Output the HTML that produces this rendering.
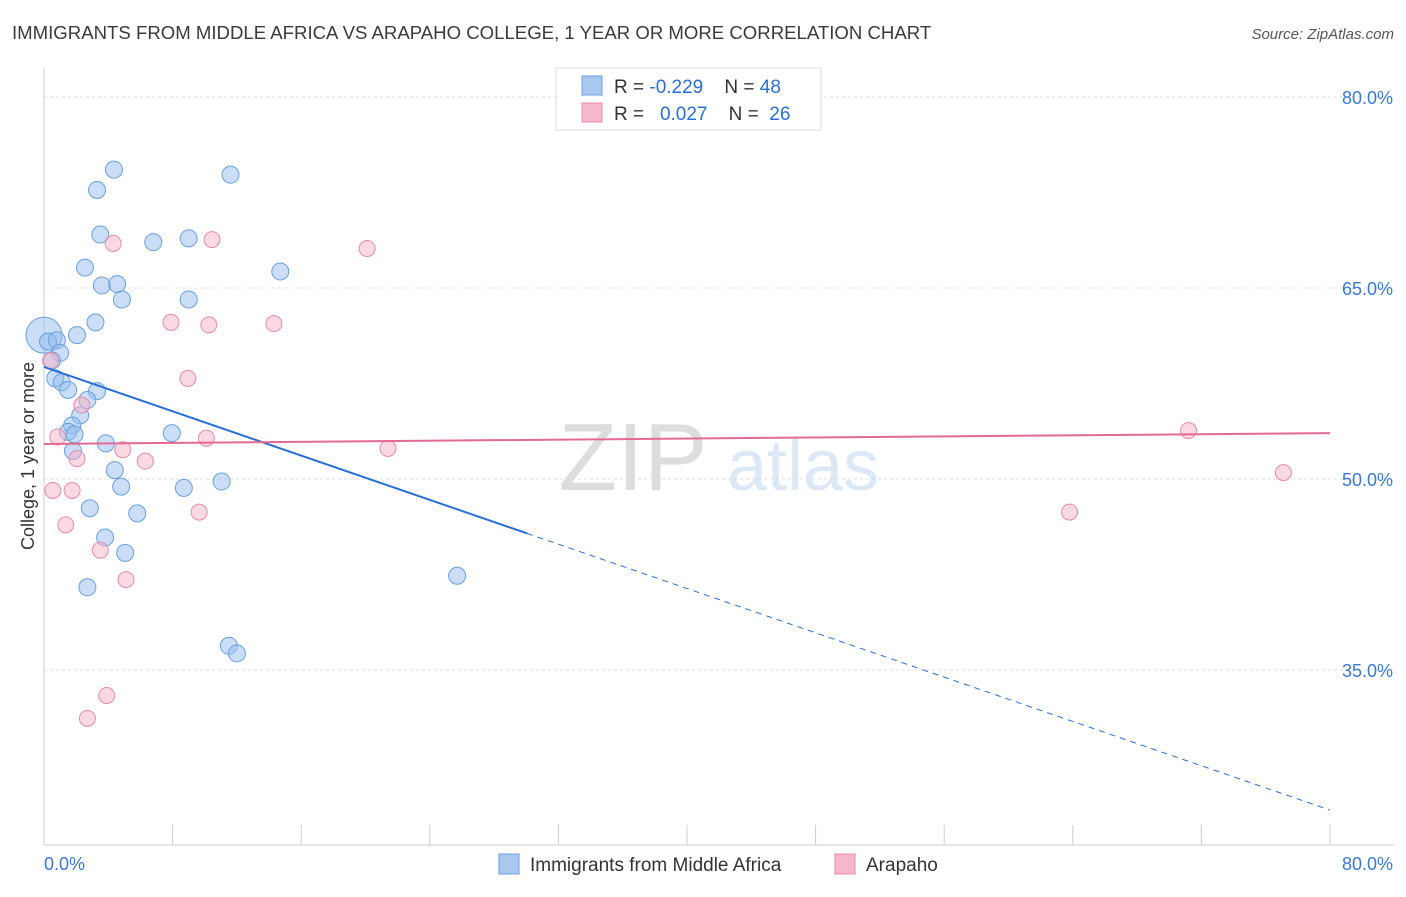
<!DOCTYPE html>
<html><head><meta charset="utf-8"><style>
body{margin:0;background:#fff;font-family:"Liberation Sans",sans-serif}
svg text{font-family:"Liberation Sans",sans-serif}
</style></head><body>
<svg id="chart" width="1406" height="892" viewBox="0 0 1406 892">
<text x="12" y="39" font-size="18.6" fill="#3a3a3a">IMMIGRANTS FROM MIDDLE AFRICA VS ARAPAHO COLLEGE, 1 YEAR OR MORE CORRELATION CHART</text>
<text x="1394" y="39" font-size="15" fill="#555" text-anchor="end" font-style="italic">Source: ZipAtlas.com</text>
<g>
<text x="633" y="490" font-size="96" fill="#ddd" text-anchor="middle" font-family="Liberation Serif">ZIP</text>
<text x="803" y="490" font-size="72" fill="#dce8f6" text-anchor="middle">atlas</text>
</g>
<g id="grid"></g>
<g id="axes"></g>
<g id="marks"></g>
<text transform="translate(34,456) rotate(-90)" font-size="18" fill="#333" text-anchor="middle">College, 1 year or more</text>
<g>
<rect x="556" y="68" width="265" height="62" fill="#fff" stroke="#ddd"/>
<rect x="582" y="76" width="20" height="19" fill="#a9c8f0" stroke="#6a9fe0"/>
<text x="614" y="93" font-size="19" fill="#333" xml:space="preserve">R = <tspan fill="#2a6fd6">-0.229</tspan>    N = <tspan fill="#2a6fd6">48</tspan></text>
<rect x="582" y="103" width="20" height="19" fill="#f5b8cb" stroke="#e88aa8"/>
<text x="614" y="120" font-size="19" fill="#333" xml:space="preserve">R =   <tspan fill="#2a6fd6">0.027</tspan>    N =  <tspan fill="#2a6fd6">26</tspan></text>
</g>
<g>
<rect x="499" y="854" width="20" height="20" fill="#a9c8f0" stroke="#6a9fe0"/>
<text x="530" y="871" font-size="19" fill="#333">Immigrants from Middle Africa</text>
<rect x="835" y="854" width="20" height="20" fill="#f5b8cb" stroke="#e88aa8"/>
<text x="866" y="871" font-size="19" fill="#333">Arapaho</text>
</g>
</svg>
<script>
const blueX=[0,0.25,0.8,1.0,0.5,0.7,1.1,1.5,2.05,3.2,2.55,3.3,4.35,3.5,3.6,4.55,4.85,6.8,9.0,11.6,14.7,9.0,3.3,2.7,2.25,1.75,1.5,1.9,1.8,3.85,4.4,4.8,2.85,5.8,3.8,5.05,2.7,7.95,8.7,11.05,11.5,12.0,25.7];
const blueY=[61.3,60.8,60.9,59.9,59.3,57.9,57.6,57.0,61.3,62.3,66.6,72.7,74.3,69.2,65.2,65.3,64.1,68.6,68.9,73.9,66.3,64.1,56.9,56.2,55.0,54.2,53.7,53.5,52.2,52.8,50.7,49.4,47.7,47.3,45.4,44.2,41.5,53.6,49.3,49.8,36.9,36.3,42.4];
const pinkX=[0.85,0.55,1.75,1.35,2.05,2.35,4.3,4.9,6.3,7.9,8.95,10.45,10.25,10.1,9.65,14.3,20.1,21.4,3.5,5.1,3.9,2.7,63.8,71.2,77.1,0.4];
const pinkY=[53.3,49.1,49.1,46.4,51.6,55.8,68.5,52.3,51.4,62.3,57.9,68.8,62.1,53.2,47.4,62.2,68.1,52.4,44.4,42.1,33.0,31.2,47.4,53.8,50.5,59.3];
const yTicks=[80,65,50,35];
const yTickLabels=["80.0%","65.0%","50.0%","35.0%"];
const xTicks=[0,8,16,24,32,40,48,56,64,72,80];
const blueTrend=[58.8,24.0];
const pinkTrend=[52.75,53.6];
const blueSolidEnd=30.05;
const NS="http://www.w3.org/2000/svg";
const X=v=>44+v*16.075, Y=v=>97+(80-v)*12.733;
function mk(tag,attrs,parent){const e=document.createElementNS(NS,tag);for(const k in attrs)e.setAttribute(k,attrs[k]);document.getElementById(parent).appendChild(e);return e;}
yTicks.forEach((t,i)=>{
 const l=mk('line',{x1:44,x2:1394,y1:Y(t),y2:Y(t),stroke:'#ddd','stroke-dasharray':'3,3'},'grid');
 
 
 const tx=mk('text',{x:1393,y:Y(t)+7,'font-size':18,fill:'#3a78d6','text-anchor':'end'},'axes');
 tx.textContent=yTickLabels[i];
 
 
});
const ya=mk('line',{x1:44,x2:44,y1:68,y2:845,stroke:'#ccc'},'axes');


const xa=mk('line',{x1:44,x2:1394,y1:845,y2:845,stroke:'#ccc'},'axes');


xTicks.forEach(t=>{const l=mk('line',{x1:X(t),x2:X(t),y1:825,y2:845,stroke:'#ccc'},'axes');
 
 });
[[0,'start'],[80,'end']].forEach(([v,a])=>{const t=mk('text',{x:a==='start'?X(v):X(v)+63,y:870,'font-size':18,fill:'#3a78d6','text-anchor':a},'axes');t.textContent=v.toFixed(1)+'%';
 
 });
blueX.forEach((x,i)=>{const c=mk('circle',{cx:X(x),cy:Y(blueY[i]),r:i===0?18:8.5,fill:'rgba(150,190,240,0.5)',stroke:'#6a9fe0','stroke-width':1},'marks');
 
 });
pinkX.forEach((x,i)=>{const c=mk('circle',{cx:X(x),cy:Y(pinkY[i]),r:8,fill:'rgba(245,180,200,0.5)',stroke:'#e88aa8','stroke-width':1},'marks');
 
 });
const by=x=>blueTrend[0]+(blueTrend[1]-blueTrend[0])*x/80;
const b1=mk('line',{x1:X(0),y1:Y(by(0)),x2:X(blueSolidEnd),y2:Y(by(blueSolidEnd)),stroke:'#2a6fd6','stroke-width':2},'marks');


const b2=mk('line',{x1:X(blueSolidEnd),y1:Y(by(blueSolidEnd)),x2:X(80),y2:Y(by(80)),stroke:'#2a6fd6','stroke-width':1,'stroke-dasharray':'6,5'},'marks');


const p1=mk('line',{x1:X(0),y1:Y(pinkTrend[0]),x2:X(80),y2:Y(pinkTrend[1]),stroke:'#e36a93','stroke-width':2},'marks');


</script>
</body></html>
